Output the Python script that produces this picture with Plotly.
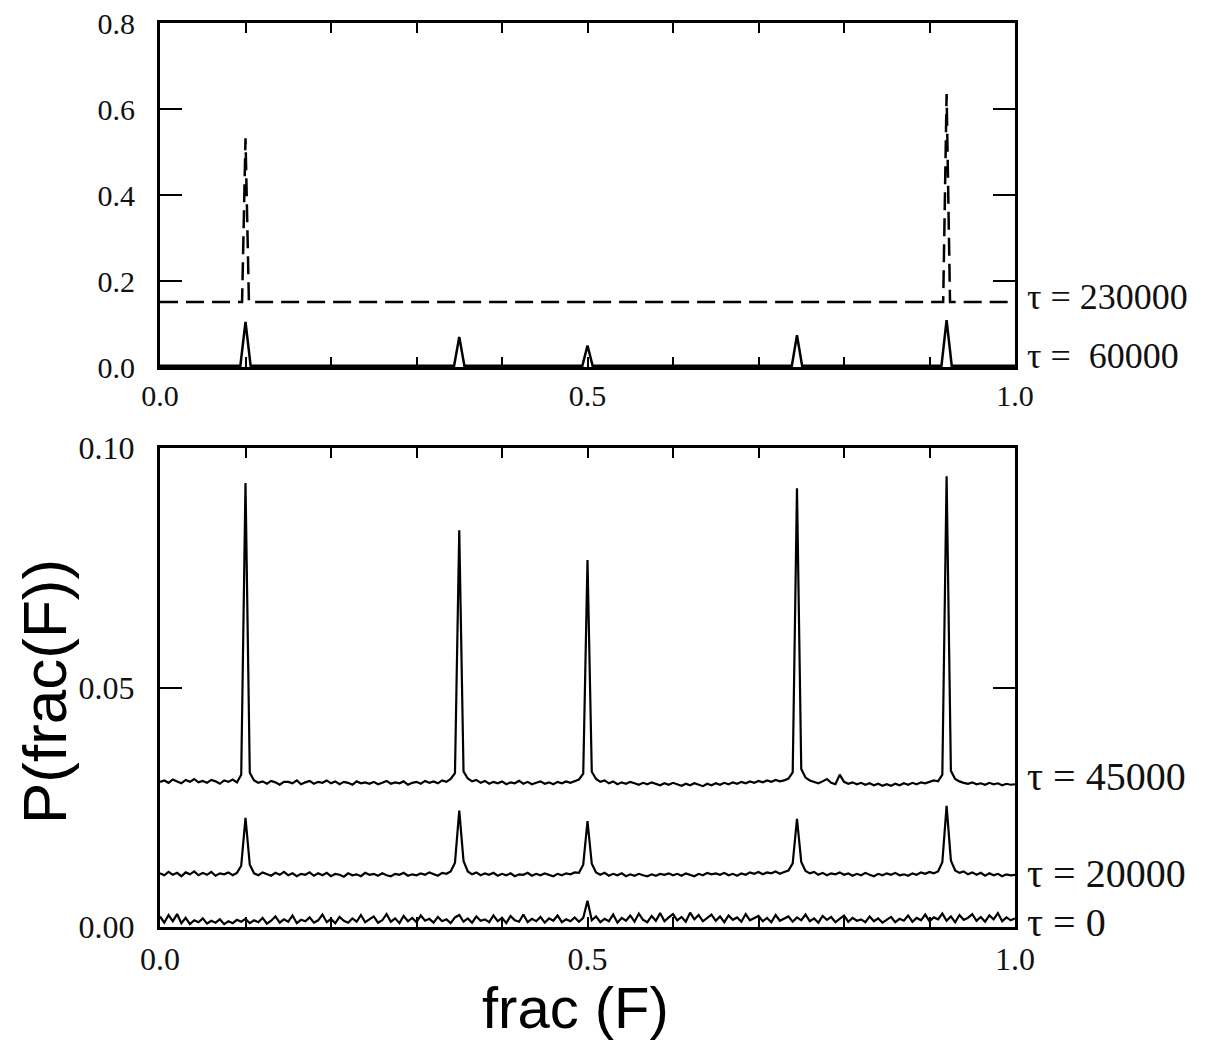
import numpy as np
import plotly.graph_objects as go

# ---------------- data ----------------
# Upper panel: late-time distributions (sparse description, flat baseline + sharp peaks)
TAU230000_X = [0.0, 0.096, 0.1, 0.104, 0.916, 0.92, 0.924, 1.0]
TAU230000_Y = [0.151, 0.151, 0.532, 0.151, 0.151, 0.635, 0.151, 0.151]

TAU60000_X = [0.0, 0.094, 0.1, 0.106, 0.344, 0.35, 0.356, 0.494, 0.5, 0.506,
              0.739, 0.745, 0.751, 0.914, 0.92, 0.926, 1.0]
TAU60000_Y = [0.003, 0.003, 0.105, 0.003, 0.003, 0.070, 0.003, 0.003, 0.050, 0.003,
              0.003, 0.074, 0.003, 0.003, 0.109, 0.003, 0.003]

# Lower panel: histogram bins of frac(F), width 0.005
FRAC_BINS = np.round(np.linspace(0.0, 1.0, 201), 3)

TAU45000_P = [
    0.0303, 0.0306, 0.0301, 0.0308, 0.0304, 0.0300, 0.0307, 0.0303, 0.0309, 0.0302,
    0.0305, 0.0301, 0.0307, 0.0304, 0.0299, 0.0306, 0.0303, 0.0308, 0.0302, 0.0318,
    0.0927, 0.0322, 0.0306, 0.0301, 0.0304, 0.0299, 0.0305, 0.0302, 0.0297, 0.0303,
    0.0303, 0.0300, 0.0306, 0.0298, 0.0302, 0.0305, 0.0299, 0.0303, 0.0301, 0.0306,
    0.0300, 0.0304, 0.0298, 0.0303, 0.0301, 0.0297, 0.0304, 0.0300, 0.0302, 0.0299,
    0.0303, 0.0298, 0.0301, 0.0305, 0.0299, 0.0302, 0.0300, 0.0304, 0.0297, 0.0301,
    0.0303, 0.0299, 0.0305, 0.0301, 0.0304, 0.0300, 0.0306, 0.0303, 0.0309, 0.0321,
    0.0828, 0.0325, 0.0310, 0.0304, 0.0307, 0.0301, 0.0305, 0.0299, 0.0303, 0.0300,
    0.0304, 0.0298, 0.0302, 0.0300, 0.0305, 0.0299, 0.0303, 0.0298, 0.0301, 0.0304,
    0.0299, 0.0302, 0.0298, 0.0303, 0.0300, 0.0304, 0.0301, 0.0305, 0.0308, 0.0320,
    0.0766, 0.0324, 0.0309, 0.0303, 0.0306, 0.0300, 0.0304, 0.0298, 0.0302, 0.0299,
    0.0303, 0.0300, 0.0297, 0.0301, 0.0298, 0.0302, 0.0299, 0.0296, 0.0300, 0.0297,
    0.0301, 0.0298, 0.0295, 0.0299, 0.0296, 0.0300, 0.0297, 0.0294, 0.0299, 0.0296,
    0.0300, 0.0297, 0.0301, 0.0298, 0.0302, 0.0299, 0.0303, 0.0300, 0.0304, 0.0301,
    0.0305, 0.0302, 0.0306, 0.0303, 0.0307, 0.0304, 0.0306, 0.0310, 0.0323, 0.0916,
    0.0330, 0.0312, 0.0306, 0.0303, 0.0300, 0.0304, 0.0309, 0.0301, 0.0298, 0.0318,
    0.0303, 0.0299, 0.0302, 0.0298, 0.0301, 0.0297, 0.0300, 0.0296, 0.0299, 0.0295,
    0.0298, 0.0295, 0.0299, 0.0296, 0.0300, 0.0297, 0.0301, 0.0298, 0.0302, 0.0300,
    0.0303, 0.0306, 0.0304, 0.0318, 0.0941, 0.0326, 0.0309, 0.0304, 0.0301, 0.0299,
    0.0302, 0.0298, 0.0300, 0.0297, 0.0301, 0.0298, 0.0300, 0.0296, 0.0299, 0.0297,
    0.0298,
]

TAU20000_P = [
    0.0112, 0.0108, 0.0115, 0.0109, 0.0113, 0.0106, 0.0114, 0.0110, 0.0116, 0.0108,
    0.0113, 0.0109, 0.0115, 0.0107, 0.0112, 0.0110, 0.0114, 0.0108, 0.0113, 0.0128,
    0.0228, 0.0130, 0.0112, 0.0108, 0.0114, 0.0110, 0.0107, 0.0113, 0.0109, 0.0115,
    0.0108, 0.0112, 0.0106, 0.0111, 0.0109, 0.0114, 0.0107, 0.0112, 0.0108, 0.0113,
    0.0106, 0.0111, 0.0109, 0.0105, 0.0112, 0.0108, 0.0110, 0.0106, 0.0113, 0.0109,
    0.0111, 0.0107, 0.0112, 0.0108, 0.0106, 0.0111, 0.0109, 0.0113, 0.0107, 0.0110,
    0.0108, 0.0112, 0.0109, 0.0114, 0.0110, 0.0107, 0.0113, 0.0111, 0.0116, 0.0134,
    0.0243, 0.0138, 0.0116, 0.0110, 0.0114, 0.0108, 0.0112, 0.0109, 0.0113, 0.0107,
    0.0111, 0.0108, 0.0112, 0.0106, 0.0110, 0.0109, 0.0113, 0.0107, 0.0111, 0.0108,
    0.0112, 0.0109, 0.0106, 0.0111, 0.0108, 0.0112, 0.0110, 0.0114, 0.0113, 0.0130,
    0.0221, 0.0132, 0.0114, 0.0109, 0.0113, 0.0107, 0.0111, 0.0108, 0.0112, 0.0106,
    0.0110, 0.0107, 0.0111, 0.0108, 0.0106, 0.0110, 0.0107, 0.0111, 0.0109, 0.0112,
    0.0108, 0.0111, 0.0107, 0.0112, 0.0109, 0.0106, 0.0111, 0.0108, 0.0113, 0.0110,
    0.0112, 0.0109, 0.0113, 0.0108, 0.0111, 0.0107, 0.0112, 0.0109, 0.0114, 0.0111,
    0.0115, 0.0110, 0.0114, 0.0112, 0.0116, 0.0111, 0.0115, 0.0118, 0.0133, 0.0226,
    0.0136, 0.0117, 0.0112, 0.0115, 0.0109, 0.0113, 0.0108, 0.0112, 0.0110, 0.0114,
    0.0109, 0.0112, 0.0107, 0.0111, 0.0108, 0.0113, 0.0109, 0.0106, 0.0111, 0.0108,
    0.0112, 0.0109, 0.0113, 0.0108, 0.0110, 0.0107, 0.0112, 0.0109, 0.0114, 0.0111,
    0.0115, 0.0112, 0.0116, 0.0135, 0.0253, 0.0139, 0.0118, 0.0113, 0.0116, 0.0110,
    0.0114, 0.0109, 0.0113, 0.0107, 0.0112, 0.0108, 0.0111, 0.0106, 0.0110, 0.0108,
    0.0109,
]

TAU0_P = [
    0.0022, 0.0009, 0.0025, 0.0012, 0.0027, 0.0008, 0.0019, 0.0006, 0.0014, 0.0010,
    0.0018, 0.0007, 0.0013, 0.0009, 0.0016, 0.0006, 0.0012, 0.0008, 0.0015, 0.0011,
    0.0017, 0.0008, 0.0014, 0.0010, 0.0019, 0.0007, 0.0013, 0.0022, 0.0009, 0.0016,
    0.0011, 0.0024, 0.0008, 0.0015, 0.0012, 0.0020, 0.0009, 0.0014, 0.0026, 0.0010,
    0.0017, 0.0008, 0.0021, 0.0013, 0.0009, 0.0018, 0.0011, 0.0025, 0.0010, 0.0016,
    0.0022, 0.0009, 0.0014, 0.0027, 0.0011, 0.0018, 0.0008, 0.0023, 0.0012, 0.0019,
    0.0010, 0.0024, 0.0013, 0.0017, 0.0009, 0.0021, 0.0012, 0.0016, 0.0008, 0.0020,
    0.0025, 0.0011, 0.0018, 0.0009, 0.0022, 0.0013, 0.0016, 0.0010, 0.0024, 0.0012,
    0.0019, 0.0008, 0.0023, 0.0014, 0.0011, 0.0026, 0.0010, 0.0017, 0.0012, 0.0021,
    0.0009, 0.0018, 0.0013, 0.0024, 0.0010, 0.0016, 0.0012, 0.0020, 0.0011, 0.0019,
    0.0055, 0.0014, 0.0022, 0.0010, 0.0017, 0.0012, 0.0026, 0.0009, 0.0019, 0.0013,
    0.0024, 0.0011, 0.0028, 0.0015, 0.0010, 0.0023, 0.0013, 0.0029, 0.0012, 0.0020,
    0.0027, 0.0014, 0.0021, 0.0011, 0.0030, 0.0016, 0.0025, 0.0012, 0.0019, 0.0026,
    0.0013, 0.0022, 0.0010, 0.0024, 0.0015, 0.0020, 0.0011, 0.0027, 0.0014, 0.0018,
    0.0023, 0.0012, 0.0019, 0.0010, 0.0025, 0.0013, 0.0017, 0.0022, 0.0011, 0.0020,
    0.0014, 0.0026, 0.0012, 0.0018, 0.0009, 0.0023, 0.0015, 0.0021, 0.0010, 0.0017,
    0.0024, 0.0011, 0.0019, 0.0013, 0.0016, 0.0010, 0.0022, 0.0012, 0.0018, 0.0009,
    0.0015, 0.0021, 0.0010, 0.0017, 0.0013, 0.0024, 0.0011, 0.0019, 0.0014, 0.0026,
    0.0012, 0.0020, 0.0016, 0.0028, 0.0013, 0.0022, 0.0010, 0.0025, 0.0015, 0.0019,
    0.0027, 0.0013, 0.0021, 0.0011, 0.0024, 0.0016, 0.0029, 0.0012, 0.0020, 0.0014,
    0.0018,
]

X_TICKS = [0.0, 0.1, 0.2, 0.3, 0.4, 0.5, 0.6, 0.7, 0.8, 0.9, 1.0]
X_TICKTEXT = ["0.0", "", "", "", "", "0.5", "", "", "", "", "1.0"]
Y_TOP_TICKS = [0.0, 0.2, 0.4, 0.6, 0.8]
Y_TOP_TICKTEXT = ["0.0", "0.2", "0.4", "0.6", "0.8"]
Y_BOT_TICKS = [0.0, 0.05, 0.10]
Y_BOT_TICKTEXT = ["0.00", "0.05", "0.10"]

# ---------------- figure ----------------
W, H = 1205, 1041
SERIF = "Liberation Serif, Times New Roman, serif"
SANS = "Liberation Sans, Arial, sans-serif"
INK = "#111111"

fig = go.Figure()

fig.add_trace(go.Scatter(x=TAU230000_X, y=TAU230000_Y, mode="lines",
                         line=dict(color="black", width=2.5, dash="18px,8px"),
                         xaxis="x", yaxis="y"))
fig.add_trace(go.Scatter(x=TAU60000_X, y=TAU60000_Y, mode="lines",
                         line=dict(color="black", width=2.5),
                         xaxis="x", yaxis="y"))

for series in (TAU45000_P, TAU20000_P, TAU0_P):
    fig.add_trace(go.Scatter(x=FRAC_BINS, y=series, mode="lines",
                             line=dict(color="black", width=2.2),
                             xaxis="x2", yaxis="y2"))

x0, x1 = 160 / W, 1015 / W
top_dom = [1 - 367 / H, 1 - 23 / H]
bot_dom = [1 - 927 / H, 1 - 448 / H]

axis_common = dict(
    showline=True, linecolor="black", linewidth=3, mirror="ticks",
    ticks="inside", tickcolor="black", tickwidth=2,
    showgrid=False, zeroline=False, automargin=False,
)

fig.update_layout(
    width=W, height=H,
    margin=dict(l=0, r=0, t=0, b=0),
    paper_bgcolor="white", plot_bgcolor="white",
    showlegend=False,
    template="none",
    xaxis=dict(domain=[x0, x1], range=[0, 1], anchor="y",
               tickvals=X_TICKS, ticktext=X_TICKTEXT, ticklen=10,
               tickfont=dict(family=SERIF, size=30, color=INK),
               ticklabelstandoff=0, **axis_common),
    yaxis=dict(domain=top_dom, range=[0, 0.8], anchor="x",
               tickvals=Y_TOP_TICKS, ticktext=Y_TOP_TICKTEXT, ticklen=22,
               tickfont=dict(family=SERIF, size=30, color=INK),
               ticklabelstandoff=16, **axis_common),
    xaxis2=dict(domain=[x0, x1], range=[0, 1], anchor="y2",
                tickvals=X_TICKS, ticktext=X_TICKTEXT, ticklen=10,
                tickfont=dict(family=SERIF, size=32, color=INK),
                ticklabelstandoff=2, **axis_common),
    yaxis2=dict(domain=bot_dom, range=[0, 0.1], anchor="x2",
                tickvals=Y_BOT_TICKS, ticktext=Y_BOT_TICKTEXT, ticklen=22,
                tickfont=dict(family=SERIF, size=32, color=INK),
                ticklabelstandoff=16, **axis_common),
)

# curve labels on the right-hand side
label_x = 1025 / W
labels = [
    ("τ = 230000", "y", 0.163, 36),
    ("τ =\u00a0\u00a060000", "y", 0.026, 36),
    ("τ = 45000", "y2", 0.0315, 40),
    ("τ = 20000", "y2", 0.0111, 40),
    ("τ = 0", "y2", 0.0009, 40),
]
for text, yref, yv, size in labels:
    fig.add_annotation(text=text, xref="paper", x=label_x, yref=yref, y=yv,
                       xanchor="left", yanchor="middle", showarrow=False,
                       font=dict(family=SERIF, size=size, color=INK))

# axis titles
fig.add_annotation(text="P(frac(F))", xref="paper", yref="paper",
                   x=44 / W, y=1 - 692 / H, xanchor="center", yanchor="middle",
                   textangle=-90, showarrow=False,
                   font=dict(family=SANS, size=62, color="black"))
fig.add_annotation(text="frac (F)", xref="paper", yref="paper",
                   x=575 / W, y=0, xanchor="center", yanchor="bottom",
                   showarrow=False, borderpad=0,
                   font=dict(family=SANS, size=58, color="black"))

fig.write_html("out.html")
